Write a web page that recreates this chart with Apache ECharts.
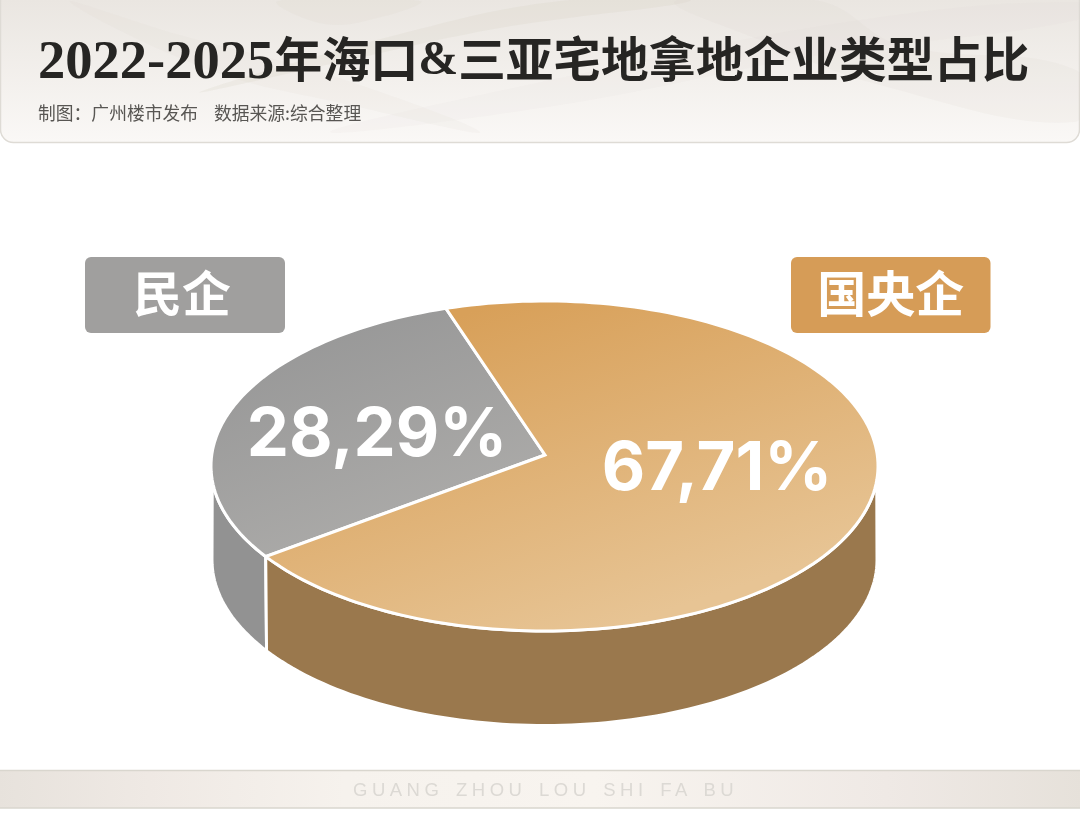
<!DOCTYPE html>
<html>
<head>
<meta charset="utf-8">
<style>
html,body{margin:0;padding:0;background:#fff;width:1080px;height:814px;overflow:hidden}
#c{position:absolute;left:0;top:0;width:1080px;height:814px}
#f{position:absolute;left:353px;top:779px;font:18.5px/22px "Liberation Sans",sans-serif;letter-spacing:4.5px;word-spacing:3px;color:#dcd9d4;white-space:nowrap}
</style>
<script src="https://cdn.jsdelivr.net/npm/echarts@6/dist/echarts.min.js"></script>
</head>
<body>
<div id="c"></div>
<div id="f">GUANG ZHOU LOU SHI FA BU</div>
<script>
var titleYears = '2022-2025';
var titleA = '年海口';
var titleAmp = '&';
var titleB = '三亚宅地拿地企业类型占比';
var subtitle = '制图：广州楼市发布    数据来源:综合整理';
var categories = ['民企', '国央企'];
var shares = [28.29, 67.71];

var CX = 544.5, CY = 466, RX = 333.5, RY = 165, APEX = [545, 455];
var DEPTH = 94, BRX = 332.5, BRY = 165.5;
var START = 17.2, WALL_L = 95, WALL_R = 265;
var total = shares[0] + shares[1];
var split = START + shares[0] / total * 360;
var ranges = [[START, split], [split, START + 360]];
var wallRanges = [[WALL_L, split, 90], [split, WALL_R, 270]];

function pt(deg, rx, ry, cy) {
  var t = deg * Math.PI / 180;
  return [CX - rx * Math.sin(t), cy - ry * Math.cos(t)];
}
function arc(a, b, rx, ry, cy) {
  var out = [], n = Math.max(2, Math.ceil(Math.abs(b - a) / 1.5));
  for (var i = 0; i <= n; i++) out.push(pt(a + (b - a) * i / n, rx, ry, cy));
  return out;
}
function grad(x0, y0, x1, y1, c0, c1) {
  return {type: 'linear', x: x0, y: y0, x2: x1, y2: y1, global: true,
    colorStops: [{offset: 0, color: c0}, {offset: 1, color: c1}]};
}
function band(points, fill, opacity) {
  return {type: 'polygon', z: -9, silent: true, shape: {points: points, smooth: 0.4}, style: {fill: fill, opacity: opacity}};
}
var topFill = [grad(330, 310, 420, 550, '#979797', '#adacaa'), grad(500, 302, 610, 630, '#d8a059', '#e7c494')];
var wallFill = ['#929292', '#9a784d'];
var boxFill = ['#a09f9e', '#d69c57'];
var labelPos = [[377, 436], [717, 470]];

function fmt(v) { return v.toFixed(2).replace('.', ',') + '%'; }

var ink = '#262523';
var option = {
  backgroundColor: '#ffffff',
  animation: false,
  title: {
    left: 38, top: 27, padding: 0, itemGap: 0,
    text: '{y|' + titleYears + '}{c|' + titleA + '}{a|' + titleAmp + '}{d|' + titleB + '}',
    textStyle: {
      rich: {
        y: {fontFamily: 'Liberation Serif', fontWeight: 'bold', fontSize: 54.5, color: ink, padding: [9, 0, 0, 0]},
        a: {fontFamily: 'Liberation Serif', fontWeight: 'bold', fontSize: 48, color: ink, padding: [6, 0, 0, 0]},
        c: {fontFamily: 'Noto Sans CJK SC', fontWeight: 'bold', fontSize: 48, color: ink},
        d: {fontFamily: 'Noto Sans CJK SC', fontWeight: 'bold', fontSize: 47.6, color: ink}
      }
    }
  },
  graphic: [
    {type: 'rect', z: -10, silent: true, shape: {x: 0.5, y: -14, width: 1079, height: 156.5, r: 13},
      style: {fill: grad(0, 0, 0, 142, '#eae6e1', '#faf8f6'), stroke: '#dedbd5', lineWidth: 1.5}},
    band([[278, 1], [325, 24], [385, 16], [420, 1]], '#d9d2c6', 0.16),
    band([[70, 2], [210, 70], [350, 105], [480, 132], [330, 75], [180, 35]], '#d9d2c6', 0.1),
    band([[200, 92], [340, 62], [500, 28], [690, 1], [560, 1], [400, 34]], '#cfc6b6', 0.16),
    band([[675, 1], [760, 40], [880, 85], [1074, 122], [1076, 70], [900, 45], [820, 1]], '#d9d2c6', 0.13),
    band([[330, 132], [560, 105], [820, 55], [1078, 20], [1078, 2], [860, 20], [560, 78]], '#d9d2c6', 0.08),
    {type: 'text', z: 5, silent: true, style: {x: 38, y: 113, text: subtitle, verticalAlign: 'middle',
      font: '17.8px "Noto Sans CJK SC"', fill: '#585653'}},
    {type: 'rect', z: -10, silent: true, shape: {x: -2, y: 770.5, width: 1084, height: 37.5},
      style: {fill: {type: 'linear', x: 0, y: 0, x2: 1, y2: 0, colorStops: [
        {offset: 0, color: '#e7e2dc'}, {offset: 0.14, color: '#efe9e4'}, {offset: 0.32, color: '#f6f2ed'},
        {offset: 0.55, color: '#f8f4ef'}, {offset: 0.82, color: '#efe9e5'}, {offset: 1, color: '#e6e1da'}]},
        stroke: '#d9d6ce', lineWidth: 1.5}},
    {type: 'rect', silent: true, shape: {x: 85, y: 257, width: 200, height: 76, r: 6}, style: {fill: boxFill[0]},
      textContent: {style: {text: categories[0], font: 'bold 49px "Noto Sans CJK SC"', fill: '#fff'}},
      textConfig: {position: 'inside', offset: [-3, -2]}},
    {type: 'rect', silent: true, shape: {x: 791, y: 257, width: 199.5, height: 76, r: 6}, style: {fill: boxFill[1]},
      textContent: {style: {text: categories[1], font: 'bold 49px "Noto Sans CJK SC"', fill: '#fff'}},
      textConfig: {position: 'inside', offset: [0, -2]}}
  ],
  series: [
    {type: 'custom', name: 'wall', coordinateSystem: 'none', silent: true, z: 2, data: shares,
      renderItem: function (p) {
        var r = wallRanges[p.dataIndex];
        var upper = arc(r[0], r[1], RX, RY, CY);
        var lowerFrom = p.dataIndex === 0 ? r[1] : r[2];
        var lowerTo = p.dataIndex === 0 ? r[2] : r[0];
        var lower = arc(lowerFrom, lowerTo, BRX, BRY, CY + DEPTH);
        return {type: 'polygon', shape: {points: upper.concat(lower)},
          style: {fill: wallFill[p.dataIndex], stroke: '#fff', lineWidth: 3, lineJoin: 'round'}};
      }},
    {type: 'custom', name: 'top', coordinateSystem: 'none', silent: true, z: 3, data: shares,
      renderItem: function (p) {
        var r = ranges[p.dataIndex];
        return {type: 'polygon', shape: {points: [APEX].concat(arc(r[0], r[1], RX, RY, CY))},
          style: {fill: topFill[p.dataIndex], stroke: '#ffffff', lineWidth: 3, lineJoin: 'miter'}};
      }},
    {type: 'custom', name: 'label', coordinateSystem: 'none', silent: true, z: 4, data: shares,
      renderItem: function (p, api) {
        var q = labelPos[p.dataIndex];
        return {type: 'text', style: {x: q[0], y: q[1], text: fmt(api.value(0)),
          align: 'center', verticalAlign: 'middle', fill: '#fff',
          font: '700 67px Inter'}};
      }}
  ]
};
var chart = echarts.init(document.getElementById('c'), null, {renderer: 'canvas', width: 1080, height: 814});
chart.setOption(option);
</script>
</body>
</html>
